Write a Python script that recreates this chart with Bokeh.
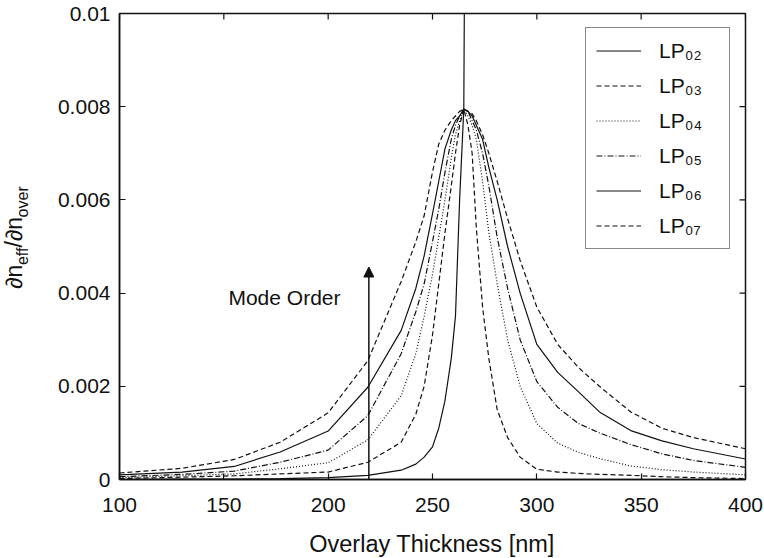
from math import pi
from bokeh.plotting import figure
from bokeh.layouts import row, column
from bokeh.core.properties import value
from bokeh.models import (Range1d, FixedTicker, PrintfTickFormatter,
                          Legend, LegendItem, Label, Arrow, NormalHead)
from bokeh.embed import file_html
from bokeh.resources import INLINE

# ---------------- data ----------------
thickness = [100, 130, 155, 177, 200, 219, 235, 242, 246, 250, 253, 256, 259, 261, 263, 265,
             267, 269, 271, 274, 277, 281, 286, 292, 300, 310, 320, 330, 345, 360, 375, 400]

lp07 = [0.00014, 0.00024, 0.00043, 0.00080, 0.00143, 0.00255, 0.00425, 0.00510, 0.00566, 0.00660,
        0.00720, 0.00750, 0.00770, 0.00780, 0.00790, 0.00795, 0.00790, 0.00785, 0.00770, 0.00740,
        0.00700, 0.00640, 0.00560, 0.00470, 0.00370, 0.00290, 0.00240, 0.00200, 0.00145, 0.00110,
        0.00090, 0.00066]
lp06 = [0.00010, 0.00016, 0.00028, 0.00059, 0.00104, 0.00198, 0.00320, 0.00410, 0.00480, 0.00570,
        0.00640, 0.00710, 0.00750, 0.00770, 0.00780, 0.00795, 0.00790, 0.00780, 0.00760, 0.00730,
        0.00670, 0.00600, 0.00500, 0.00400, 0.00290, 0.00230, 0.00188, 0.00145, 0.00105, 0.00083,
        0.00066, 0.00044]
lp05 = [0.00006, 0.00011, 0.00018, 0.00037, 0.00063, 0.00137, 0.00270, 0.00360, 0.00420, 0.00510,
        0.00580, 0.00660, 0.00730, 0.00760, 0.00780, 0.00795, 0.00790, 0.00770, 0.00750, 0.00700,
        0.00630, 0.00520, 0.00410, 0.00300, 0.00210, 0.00155, 0.00120, 0.00100, 0.00075, 0.00055,
        0.00041, 0.00026]
lp04 = [0.00004, 0.00008, 0.00012, 0.00023, 0.00036, 0.00085, 0.00180, 0.00270, 0.00350, 0.00440,
        0.00520, 0.00600, 0.00690, 0.00740, 0.00770, 0.00795, 0.00780, 0.00760, 0.00730, 0.00640,
        0.00530, 0.00420, 0.00300, 0.00200, 0.00120, 0.00078, 0.00058, 0.00045, 0.00029, 0.00021,
        0.00016, 0.00010]
lp03 = [0.00002, 0.00005, 0.00008, 0.00012, 0.00016, 0.00037, 0.00080, 0.00140, 0.00200, 0.00310,
        0.00420, 0.00530, 0.00630, 0.00700, 0.00760, 0.00795, 0.00760, 0.00700, 0.00540, 0.00370,
        0.00260, 0.00150, 0.00090, 0.00048, 0.00022, 0.00016, 0.00013, 0.00011, 0.00009, 0.00006,
        0.00004, 0.00002]
lp02_thickness = [100, 130, 155, 177, 200, 219, 235, 242, 246, 250, 253, 256, 259, 261, 263, 265, 265.3]
lp02 = [0.0, 0.00001, 0.00001, 0.00002, 0.00004, 0.00009, 0.00020, 0.00033, 0.00048, 0.00070,
        0.00110, 0.00170, 0.00260, 0.00350, 0.00600, 0.00795, 0.01050]

legend_labels = ["LP₀₂", "LP₀₃", "LP₀₄", "LP₀₅", "LP₀₆", "LP₀₇"]
x_ticks = [100, 150, 200, 250, 300, 350, 400]
y_ticks = [0, 0.002, 0.004, 0.006, 0.008, 0.01]
x_label = "Overlay Thickness [nm]"
y_label_main = ["∂n", "/∂n"]
y_label_sub = ["eff", "over"]
annotation_text = "Mode Order"
arrow_x = 219.5
arrow_y_end = 0.00456
annotation_x = 205.9
annotation_y = 0.00391

FONT = "Liberation Sans"
INK = "#111111"
STRIP_W = 40      # left strip holding the y title
STRIP_H = 30      # bottom strip holding the x title
W, H = 764, 558

# ---------------- main plot ----------------
p = figure(width=W - STRIP_W, height=H - STRIP_H, x_range=Range1d(100, 400),
           y_range=Range1d(0, 0.01), output_backend="svg", toolbar_location=None,
           min_border_left=119 - STRIP_W, min_border_right=19, min_border_top=13,
           min_border_bottom=49)
p.background_fill_color = "white"
p.border_fill_color = "white"
p.xgrid.visible = False
p.ygrid.visible = False
p.outline_line_color = INK
p.outline_line_width = 1.5

for ax in (p.xaxis[0], p.yaxis[0]):
    ax.axis_line_color = INK
    ax.axis_line_width = 1.5
    ax.major_tick_in = 6
    ax.major_tick_out = 0
    ax.major_tick_line_color = INK
    ax.major_tick_line_width = 1.2
    ax.minor_tick_line_color = None
    ax.major_label_text_font = FONT
    ax.major_label_text_color = INK
    ax.major_label_text_font_size = "21px"

p.xaxis.ticker = FixedTicker(ticks=x_ticks)
p.yaxis.ticker = FixedTicker(ticks=y_ticks)
p.yaxis.formatter = PrintfTickFormatter(format="%g")
p.xaxis.major_label_standoff = 18
p.yaxis.major_label_standoff = 9

# mirrored inward ticks on the top and right edges (half of each dash is clipped away)
p.scatter(x_ticks, [y_ticks[-1]] * len(x_ticks), marker="dash", size=12, angle=pi / 2,
          line_color=INK, line_width=1.2)
p.scatter([x_ticks[-1]] * len(y_ticks), y_ticks, marker="dash", size=12,
          line_color=INK, line_width=1.2)

styles = [("solid", lp02_thickness, lp02), ("5 3", thickness, lp03), ("1 2", thickness, lp04),
          ("6 2 1 2", thickness, lp05), ("solid", thickness, lp06), ("5 3", thickness, lp07)]
items = []
for lab, (dash, xs, ys) in zip(legend_labels, styles):
    r = p.line(xs, ys, line_color=INK, line_width=1.2, line_dash=dash)
    items.append(LegendItem(label=lab, renderers=[r]))

legend = Legend(items=items, location=(466, 230))
legend.border_line_color = INK
legend.border_line_width = 1.2
legend.background_fill_color = "white"
legend.background_fill_alpha = 1
legend.margin = 0
legend.padding = 10
legend.spacing = 10
legend.glyph_width = 45
legend.glyph_height = 25
legend.label_height = 25
legend.label_width = 60
legend.label_standoff = 18
legend.label_text_font = FONT
legend.label_text_font_size = "21px"
legend.label_text_color = INK
p.add_layout(legend, "center")

p.add_layout(Arrow(end=NormalHead(size=10, fill_color=INK, line_color=INK),
                   x_start=arrow_x, y_start=0, x_end=arrow_x, y_end=arrow_y_end,
                   line_color=INK, line_width=1.5))
p.add_layout(Label(x=annotation_x, y=annotation_y, text=annotation_text, text_align="right",
                   text_baseline="middle", text_font=FONT, text_font_size="21px",
                   text_color=INK))

def strip(width, height):
    f = figure(width=width, height=height, x_range=Range1d(0, width), y_range=Range1d(0, height),
               output_backend="svg", toolbar_location=None, min_border=0)
    f.axis.visible = False
    f.xgrid.visible = False
    f.ygrid.visible = False
    f.outline_line_color = None
    f.background_fill_color = "white"
    f.border_fill_color = "white"
    return f

# ---------------- left strip: rotated y-axis title with subscripts ----------------
s = strip(STRIP_W, H - STRIP_H)
s.text(x=[13.5, 13.5], y=[216, 263], text=y_label_main, angle=pi / 2,
       text_align="left", text_baseline="middle", text_color=INK,
       text_font=value(FONT), text_font_size=value("23px"))
s.text(x=[21.5, 21.5], y=[243, 297], text=y_label_sub, angle=pi / 2,
       text_align="left", text_baseline="middle", text_color=INK,
       text_font=value(FONT), text_font_size=value("16px"))

# ---------------- bottom strip: x-axis title ----------------
b = strip(W, STRIP_H)
b.text(x=[431.5], y=[14.5], text=[x_label], text_align="center", text_baseline="middle",
       text_color=INK, text_font=value(FONT), text_font_size=value("23.5px"))

layout = column(row(s, p, spacing=0), b, spacing=0)
open("out.html", "w").write(file_html(layout, INLINE))
